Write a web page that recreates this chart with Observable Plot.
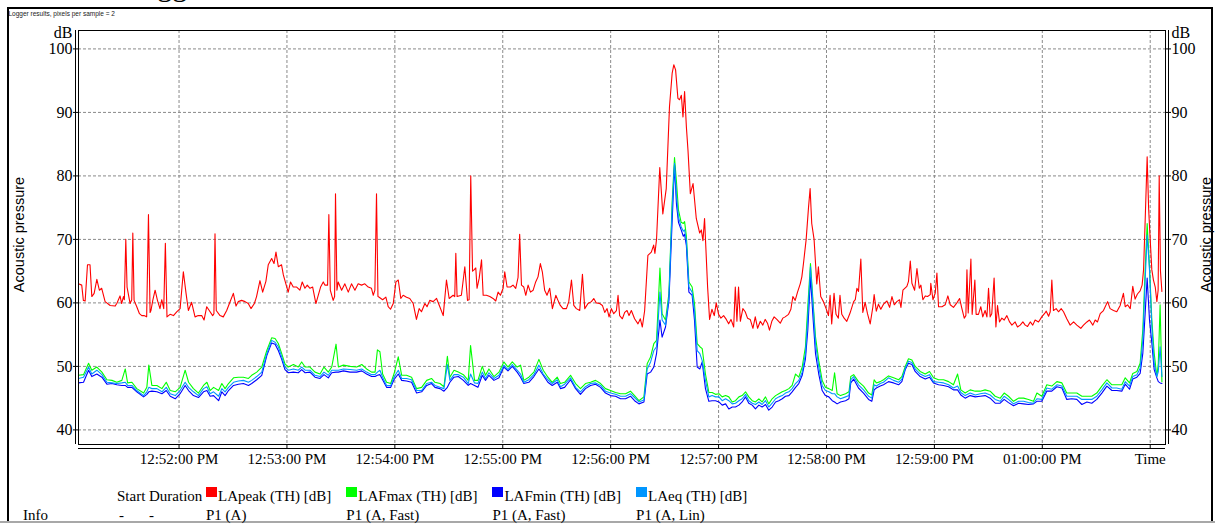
<!DOCTYPE html>
<html><head><meta charset="utf-8">
<script src="https://cdn.jsdelivr.net/npm/d3@7"></script>
<script src="https://cdn.jsdelivr.net/npm/@observablehq/plot@0.6"></script>
<style>
html,body{margin:0;padding:0;background:#fff;}
#wrap{position:relative;width:1215px;height:524px;overflow:hidden;background:#fff;}
#wrap svg{position:absolute;left:0;top:0;}
#wrap svg text{font-family:"Liberation Serif","Times New Roman",serif;}
.abs{position:absolute;white-space:nowrap;}
.leg{font-family:"Liberation Serif","Times New Roman",serif;font-size:15px;line-height:15px;color:#000;}
.bar{position:absolute;}
</style></head><body>
<div id="wrap"></div>
<script>
// ---- data (time in seconds after 12:51:00 PM) ----
const peakT = [4.1,5.9,6.8,7.8,9.1,10.5,11.5,12.8,14.3,15.7,17.0,18.9,21.7,24.4,25.4,27.2,28.1,29.1,29.6,30.4,31.1,32.8,33.7,34.3,35.0,36.5,38.0,39.3,40.5,42.0,43.0,43.9,44.4,45.4,46.7,48.0,49.4,50.4,51.5,52.4,53.3,55.0,56.9,58.7,60.6,62.4,63.9,65.2,67.0,68.9,70.7,72.6,73.9,75.4,76.8,78.7,79.4,80.0,80.7,82.8,84.6,86.5,88.0,90.2,91.7,92.9,94.8,96.7,98.5,100.0,101.9,103.1,105.0,106.5,108.3,109.6,111.5,112.8,113.9,115.2,117.0,118.0,119.4,120.7,122.0,123.5,125.4,127.2,128.5,130.0,131.3,132.8,134.3,136.1,137.4,138.7,140.2,141.1,142.6,143.3,144.1,145.7,146.5,147.0,147.8,148.5,150.4,152.2,154.1,155.9,157.8,159.6,161.5,163.3,165.2,167.0,168.0,168.9,169.8,170.6,171.3,173.2,175.0,176.3,177.6,179.1,180.6,181.9,183.3,184.6,186.5,188.3,190.2,192.0,193.5,194.8,196.7,197.9,199.4,201.3,203.2,205.0,206.9,208.7,210.2,212.4,213.3,213.9,214.6,217.0,218.9,220.4,221.3,222.2,223.2,224.0,225.0,225.7,226.9,228.2,229.1,230.9,232.8,234.6,236.1,237.4,238.7,240.2,241.1,242.4,244.3,245.7,247.2,248.5,249.4,250.4,251.7,252.8,254.1,255.4,256.9,258.3,259.6,260.9,262.0,263.3,264.6,266.1,267.6,269.5,270.7,272.0,273.5,275.4,276.7,278.2,279.5,280.9,282.8,284.3,285.6,287.4,289.3,290.6,292.0,293.9,295.4,296.7,298.0,299.1,300.4,301.7,303.2,304.1,305.0,306.5,307.8,309.1,310.2,311.5,313.3,315.2,316.5,317.6,318.9,320.7,322.6,323.9,324.6,325.5,327.3,329.0,330.9,332.7,334.2,335.1,336.1,337.4,338.3,339.3,340.2,341.1,342.1,343.0,344.3,345.8,347.6,349.5,350.4,351.3,352.2,353.9,355.0,356.3,357.6,358.7,360.0,361.3,362.8,364.3,365.6,366.9,368.4,369.3,370.2,371.1,372.1,373.5,374.8,376.1,377.6,379.1,380.4,381.7,383.2,384.6,385.9,387.2,388.3,389.6,390.9,392.4,394.3,395.7,397.0,398.9,400.2,401.3,402.6,403.9,405.4,406.3,407.2,408.7,410.0,410.9,411.8,413.1,414.6,415.5,416.8,418.3,419.8,421.1,422.0,422.9,424.2,425.3,426.6,427.5,428.5,429.8,431.3,433.1,435.1,436.0,436.9,437.8,439.1,440.2,441.5,442.8,444.3,445.8,446.5,447.7,448.9,450.2,451.7,453.6,455.1,456.4,457.7,459.1,460.6,461.4,462.5,464.7,465.6,466.6,467.5,469.0,470.3,471.6,472.5,473.6,474.9,476.2,477.7,478.0,479.2,480.5,481.4,482.3,484.2,486.0,487.5,488.8,490.6,492.5,494.0,495.3,496.6,497.5,498.1,498.8,500.3,501.0,502.5,503.2,504.5,505.8,506.9,508.2,509.2,510.1,511.0,511.9,513.2,514.2,515.1,516.2,517.5,518.8,520.3,521.8,523.1,524.9,526.2,527.7,529.2,530.5,531.8,533.3,534.7,536.0,537.9,539.7,541.2,542.2,543.5,544.4,545.3,546.2,547.7,549.0,550.5,551.8,553.6,555.5,557.4,559.2,561.4,562.9,564.8,566.2,568.1,569.4,570.7,572.2,574.0,576.3,577.7,579.6,581.4,583.3,585.1,586.1,587.4,588.9,590.3,591.6,592.9,594.4,595.5,596.3,597.2,598.3,599.1,599.8,600.9,601.8,602.8,603.7,604.4,605.0,605.7,606.5];
const peakV = [63,62.8,60.4,60.3,66,66,61,61.5,63.7,62,62.3,60.2,59.6,59.5,59.9,61.1,59.9,61,60.5,70,62.5,59.9,60.5,71,60.4,59.4,58.3,58,58,57.8,73.9,58.5,58.8,60.4,62,60.4,59.1,60.5,59.1,69.4,57.8,58.2,58,58.6,59.1,64.9,61.5,58.8,60.1,57.8,58,58,57.3,59.4,58.8,58,58.3,70.9,58.8,58,57.8,58.8,59.9,61.5,59.5,60.2,60.4,60.2,59.9,59.1,59.9,61,63.5,61.7,63.4,66,67,66.2,68,65.7,66,64.4,63,61.7,63.3,62.5,62.5,62,63.3,62.3,62.8,62.3,62.5,59.9,61.2,62.5,63.3,62.8,62.8,73.9,62,60.4,61,77.2,62,63.3,62,63,61.7,63,62,63,62.8,63,62.5,62.3,61.2,62,77.2,61,60.9,60.5,60.9,59.4,59,59.9,63.3,63.6,60.7,61.2,60.9,60.7,59.9,57.4,59.1,58.6,59.9,59.4,60.4,60.2,60.7,59.4,58,63.6,60.7,61.2,61,67.8,61,61.2,65.7,60.4,60.5,80,65,65.2,65.5,62.3,63.9,66.8,61.2,61.2,61,60.7,60.3,61.7,61.2,62.3,64.9,62.5,62.5,62.8,62.3,64,70.8,62.8,62.5,61.2,62.8,61.7,62,63.3,64.1,66.2,64.9,62,61.2,62.3,59.1,61.2,60.4,59.6,59.1,59.1,60.2,63.6,59.6,59.1,58.8,64.5,59.1,59.9,60.2,60.7,60,59.9,59.6,58.5,59.1,57.8,59.1,58.3,58.8,61.2,58,57.5,58.5,58.8,58,58.8,57.5,56.7,57.5,56.2,58.8,67.5,68,69.1,67.8,70,81.3,74,78,90.9,96.2,97.5,96.7,92.2,92,92.7,89.3,93.3,87.7,84,77.2,78.8,73.3,71,71.5,69.8,73.3,62.5,57.4,59,58,60,58.2,57.6,58,57.4,56.7,57.4,56.2,62.5,57.1,62.5,57.1,59.1,58.6,57.6,57.4,56,57.8,56,57.1,56.5,57.4,56.8,55.7,57.1,57.8,57.4,56.8,57.6,57.8,58.2,59,61,60.4,61.7,63,64.1,66.2,70,75,78,72.5,70,63,65.7,61,60.2,59.1,58,61.2,56.7,61.5,58.2,57.6,61.2,58.2,57.6,57.1,58.4,60.2,60.5,62.3,61.8,66.9,58.5,60.1,58.3,56.7,59.4,61.3,58.7,59.8,59,59.8,60.3,59.3,61,59.7,60.2,60.5,59.3,62,62.6,63.4,66.6,63.1,62,65.4,62.3,62.8,60.5,61.1,61,61.3,63.1,60.5,61.6,64.7,59.4,59.4,59.7,61.1,59.7,59.3,60,60.7,59.1,57.6,58,65.2,58.4,66.9,58.2,63.6,58.2,58.2,59.4,57.8,58.8,57.8,62.3,57.8,58.3,63.9,56.2,59.6,57,57.6,57.3,58,57,56.5,57,56.2,56.5,57,56.5,56.3,57,56.5,57.3,57,57.8,58.3,58.7,57.9,58.6,63.6,58.8,59.1,58.6,59.1,58.6,57.5,56.5,57,56.5,56,56.5,57,57.3,56.5,57.3,57,58.3,58.8,60.2,59.1,58.8,58.6,59.6,61.5,59.4,59.7,59.1,62.6,60.6,61.4,61.9,62.8,65.2,73,83,75,71,65.2,63.6,62.5,60.2,62,80,65,61.8];

const lowT = [4.1,6.9,9.7,11.5,14.3,17.1,19.9,22.7,25.4,28.2,30.1,31.4,33.8,36.5,40.3,42.1,43.2,44.9,47.7,50.5,52.9,55.1,57.9,60.6,63.4,65.3,68.0,70.8,73.6,75.5,77.3,79.2,82.0,83.8,85.6,87.5,90.3,93.0,95.8,98.6,100.4,103.2,106.0,108.8,111.5,113.4,115.2,117.1,118.9,120.8,123.6,126.3,128.2,130.1,132.8,135.6,138.4,140.6,143.0,144.9,147.3,148.6,151.4,155.1,158.8,161.6,164.3,167.1,169.0,170.3,171.7,173.2,175.4,177.7,179.5,181.9,183.8,186.5,189.3,192.1,194.9,197.7,200.4,202.3,205.1,207.3,209.2,210.6,212.9,215.3,218.1,220.8,222.1,224.3,226.2,228.6,230.4,232.3,235.1,237.9,240.6,242.9,245.3,248.0,249.9,251.7,254.5,257.3,260.1,262.5,265.1,267.5,270.3,272.1,274.4,277.7,280.5,283.2,286.0,288.8,291.6,294.4,297.1,299.9,302.7,305.5,308.3,311.0,313.3,315.7,318.5,320.3,322.2,324.0,325.5,327.4,328.6,330.5,332.4,334.2,335.5,336.6,337.7,339.2,340.4,341.1,342.1,343.5,345.3,346.6,348.1,349.6,350.9,352.7,354.6,356.4,358.3,360.2,362.0,363.9,365.7,367.6,369.4,371.3,373.1,375.0,376.8,378.7,380.5,382.4,384.2,386.1,387.9,389.8,391.7,393.5,395.4,397.2,399.1,400.9,402.8,404.6,406.5,408.3,409.6,411.1,412.6,413.9,415.7,417.6,419.4,421.3,423.2,424.5,425.9,427.8,430.6,432.5,433.5,435.1,437.8,440.6,443.4,445.2,446.5,447.7,449.9,451.7,454.5,457.3,460.1,461.9,463.8,465.6,467.5,469.3,472.1,474.9,477.3,479.5,482.3,485.1,487.9,490.6,492.9,494.7,497.1,499.9,502.7,505.5,508.2,511.0,513.8,516.6,518.8,521.2,524.0,526.8,529.6,532.3,535.1,537.0,539.7,542.5,545.3,548.1,550.9,553.6,556.4,559.2,562.0,564.8,567.5,570.3,573.1,575.9,578.7,581.4,584.2,586.1,588.5,590.3,592.6,594.4,595.9,597.2,598.3,599.6,600.9,602.2,603.7,604.5,605.5,606.5];
const lafmax = [48.6,48.7,50.5,49.4,49.9,49.1,47.9,47.8,47.5,47.8,49.6,47.4,47.5,46.5,45.8,46.7,50.2,47.0,47.0,46.5,47.5,46.2,46.0,46.7,49.4,47.5,46.5,45.8,47.0,47.5,46.2,46.7,46.2,47.3,46.5,47.3,48.2,48.3,48.3,48.1,48.6,49.1,49.9,52.5,54.5,54.4,53.6,52.0,50.4,49.9,50.3,49.9,50.7,49.9,49.9,49.1,48.8,49.9,49.1,49.9,53.5,49.9,50.2,50.0,49.9,50.3,49.6,49.1,49.1,52.6,52.3,48.8,47.5,47.3,48.8,51.5,48.6,48.6,48.3,46.5,46.7,47.8,48.1,47.5,47.3,46.8,51.6,48.3,49.4,49.1,48.7,47.8,53.3,47.8,47.8,50.0,48.6,49.6,48.4,49.1,50.7,49.9,50.7,49.9,50.2,47.8,48.3,49.1,51.1,49.4,48.3,47.5,48.3,47.3,47.5,48.6,47.3,46.5,47.3,47.5,47.8,47.3,46.5,46.2,45.9,45.7,45.7,46.1,45.4,44.6,45.2,50.4,51.5,53.6,54.1,65.5,58.3,57.3,61.5,76.0,82.9,79.0,74.6,72.7,72.5,72.8,70.5,63.3,62.5,59.9,53.6,53.1,52.8,48.8,45.9,45.9,45.6,45.7,45.2,45.4,45.2,44.4,44.6,45.2,45.4,46.0,45.2,44.6,44.4,44.9,44.4,45.2,44.1,44.9,45.4,45.7,46.0,46.2,46.5,47.0,48.8,48.3,49.9,53.1,59.4,66.2,59.9,54.6,50.9,47.8,46.7,46.5,46.2,49.0,45.7,45.4,45.7,46.0,48.4,48.7,47.6,46.9,45.8,45.5,47.9,47.4,47.6,47.9,48.5,48.2,47.9,48.4,50.0,51.2,51.0,50.0,49.2,48.8,49.2,48.2,47.9,47.9,47.6,47.1,48.8,46.3,45.8,46.3,46.1,46.1,46.3,46.1,45.3,45.0,45.8,45.3,44.5,45.0,45.0,44.8,44.5,45.8,45.3,47.1,46.9,47.6,47.4,45.8,45.8,45.8,45.3,45.3,45.3,45.8,46.9,47.9,47.1,47.1,47.1,48.2,47.4,48.9,49.2,50.5,55.8,65.2,72.5,65.7,57.3,52.1,48.4,50.5,59.7,47.6];
const laeq = [48.1,48.3,49.9,48.8,49.4,48.7,47.5,47.4,47.3,47.4,47.5,47.0,47.0,46.2,45.4,46.0,46.7,46.5,46.5,46.0,46.7,45.7,45.4,46.2,47.5,46.7,46.0,45.4,46.5,46.8,45.7,46.0,45.3,46.5,46.0,46.7,47.5,47.7,47.8,47.5,47.8,48.4,49.1,52.0,54.1,53.8,53.1,51.5,49.9,49.4,49.6,49.4,49.9,49.4,49.4,48.6,48.4,49.1,48.6,49.4,49.4,49.4,49.6,49.5,49.4,49.6,49.1,48.7,48.7,49.1,49.4,48.3,47.0,47.0,48.3,49.4,48.1,48.1,47.9,46.2,46.2,47.3,47.5,47.0,46.7,46.5,50.3,47.8,48.7,48.7,48.3,47.3,48.8,47.4,47.3,49.1,48.1,49.0,48.1,48.6,50.2,49.5,50.3,49.4,48.8,47.5,47.9,48.7,50.2,48.8,47.9,47.3,47.9,46.8,47.2,48.2,46.7,46.0,46.8,47.3,47.4,47.0,46.1,45.8,45.6,45.3,45.3,45.7,45.1,44.4,44.7,49.6,50.7,52.5,53.1,61.7,57.3,56.5,61.0,75.0,82.0,77.0,73.5,72.0,71.3,71.5,69.8,62.5,61.7,58.8,52.5,52.0,50.9,47.8,45.2,45.4,45.2,45.2,44.6,44.9,44.6,44.1,44.2,44.6,44.9,45.6,44.6,44.2,44.0,44.4,44.0,44.6,43.6,44.2,44.9,45.2,45.4,45.8,46.0,46.5,47.3,47.8,49.1,52.0,57.8,65.7,59.4,53.6,49.9,47.0,46.2,46.0,45.7,45.7,45.2,44.9,45.2,45.4,47.9,48.4,47.1,46.3,45.3,45.0,47.1,46.9,47.3,47.5,48.2,47.8,47.5,48.0,49.7,50.8,50.6,49.6,48.8,48.4,48.7,47.6,47.5,47.4,47.1,46.6,46.9,45.9,45.4,45.8,45.5,45.7,45.8,45.5,44.8,44.5,45.3,44.8,44.1,44.5,44.5,44.3,44.2,44.9,44.8,46.6,46.4,47.1,46.9,45.3,45.3,45.3,44.8,44.8,44.8,45.3,46.3,47.4,46.6,46.6,46.4,47.6,46.9,48.4,48.7,49.7,54.2,63.6,70.7,65.2,56.3,50.5,48.4,49.2,53.1,48.4];
const lafmin = [47.4,47.5,49.4,48.4,48.8,48.3,47.2,47.3,47.1,47.0,47.0,46.7,46.7,46.0,45.2,45.6,46.0,46.1,46.0,45.7,46.2,45.3,44.9,45.7,47.0,46.2,45.4,45.1,46.0,46.2,45.3,45.4,44.6,46.0,45.4,46.2,47.0,47.2,47.3,47.0,47.3,47.9,48.6,51.7,53.7,53.5,52.5,51.1,49.5,49.0,49.1,49.0,49.5,49.0,49.1,48.3,48.1,48.7,48.2,49.0,49.1,49.1,49.3,49.1,49.1,49.3,48.8,48.4,48.4,48.6,48.7,47.9,46.7,46.7,47.9,48.8,47.8,47.7,47.5,45.8,46.0,47.0,47.3,46.7,46.5,46.1,46.7,47.5,48.3,48.4,47.8,47.0,47.3,47.0,46.7,48.6,47.8,48.6,47.8,48.2,49.9,49.3,50.0,49.1,48.3,47.3,47.5,48.4,49.6,48.6,47.5,47.0,47.5,46.5,46.7,47.9,46.5,45.6,46.5,47.0,47.2,46.7,45.8,45.4,45.3,44.9,44.9,45.3,44.6,44.1,44.4,48.8,49.1,49.9,52.0,57.3,54.6,56.2,60.4,73.0,81.7,75.5,72.7,71.5,70.5,70.8,69.0,61.7,61.2,57.3,49.9,49.6,50.7,46.5,44.5,44.6,44.6,44.4,43.9,44.1,43.3,43.6,43.6,43.9,44.4,45.2,44.2,43.9,43.3,43.9,43.6,44.0,43.1,43.6,44.4,44.6,44.9,45.3,45.4,46.0,46.7,47.3,48.6,51.2,55.7,64.1,57.3,52.0,48.8,46.2,45.4,45.2,44.6,44.4,44.1,44.4,44.6,44.9,47.4,48.0,46.6,45.8,44.8,44.5,46.3,46.6,46.9,47.1,47.6,47.4,47.1,47.6,49.5,50.5,50.3,49.2,48.4,48.0,48.3,47.4,47.1,47.0,46.8,46.3,46.3,45.5,45.0,45.4,45.2,45.3,45.4,45.0,44.2,44.2,44.8,44.3,43.8,44.2,44.1,44.0,44.1,44.5,44.5,46.1,46.1,46.8,46.6,44.8,44.9,44.8,44.0,44.4,44.2,44.8,45.8,46.9,46.2,46.2,46.1,47.2,46.4,48.0,48.3,48.9,52.1,58.4,63.9,57.3,53.7,49.5,48.2,47.6,47.4,47.3];

const yTicks = [40, 50, 60, 70, 80, 90, 100];
const xTickSec = [60, 120, 180, 240, 300, 360, 420, 480, 540, 600];
const xTickLabels = ["12:52:00 PM","12:53:00 PM","12:54:00 PM","12:55:00 PM","12:56:00 PM","12:57:00 PM","12:58:00 PM","12:59:00 PM","01:00:00 PM","Time"];
const seriesNames = ["LApeak (TH) [dB]", "LAFmax (TH) [dB]", "LAFmin (TH) [dB]", "LAeq (TH) [dB]"];
const seriesInfo = ["P1 (A)", "P1 (A, Fast)", "P1 (A, Fast)", "P1 (A, Lin)"];
const headerCols = ["Start", "Duration"];
const infoCols = ["-", "-"];

// ---- styles ----
const seriesColors = ["#ff0000", "#00ff00", "#0000ff", "#0096ff"];

const base = Date.UTC(2024, 0, 1, 12, 51, 0);
const toDate = s => new Date(base + s * 1000);
const xDomain = [toDate(4.1), toDate(608.5)];
const yDomain = [37.7, 102.9];
const xTicks = xTickSec.map(toDate);
const labelByTime = new Map(xTicks.map((d, i) => [+d, xTickLabels[i]]));

const peakData = peakT.map((t, i) => ({t: toDate(t), v: peakV[i]}));
const mk = arr => lowT.map((t, i) => ({t: toDate(t), v: arr[i]}));
const lowSeries = [mk(lafmax), mk(lafmin), mk(laeq)];

const W = 1215, H = 470;
const serif = "'Liberation Serif','Times New Roman',serif";
const sans = "'Liberation Sans',Arial,sans-serif";

const chart = Plot.plot({
  width: W, height: H,
  marginLeft: 78, marginRight: 50, marginTop: 30, marginBottom: H - 444,
  x: {type: "utc", domain: xDomain},
  y: {domain: yDomain},
  style: {fontFamily: serif, fontSize: "15px", color: "#000", background: "transparent", overflow: "visible"},
  marks: [
    Plot.gridY(yTicks, {stroke: "#8a8a8a", strokeOpacity: 1, strokeDasharray: "3,2"}),
    Plot.gridX(xTicks, {stroke: "#8a8a8a", strokeOpacity: 1, strokeDasharray: "3,2"}),
    Plot.line(peakData, {x: "t", y: "v", stroke: seriesColors[0], strokeWidth: 1.1}),
    Plot.line(lowSeries[0], {x: "t", y: "v", stroke: seriesColors[1], strokeWidth: 1.1}),
    Plot.line(lowSeries[1], {x: "t", y: "v", stroke: seriesColors[2], strokeWidth: 1.1}),
    Plot.line(lowSeries[2], {x: "t", y: "v", stroke: seriesColors[3], strokeWidth: 1.1}),
    Plot.frame({stroke: "#000"}),
    Plot.ruleX([xDomain[0]], {dx: -3, stroke: "#000"}),
    Plot.ruleX([xDomain[1]], {dx: 3, stroke: "#000"}),
    Plot.ruleY([yDomain[0]], {dy: 4, stroke: "#000"}),
    Plot.axisY(yTicks, {anchor: "left", tickSize: 5, tickPadding: 1, label: null, fontSize: 16, fontVariant: "normal"}),
    Plot.axisY(yTicks, {anchor: "right", tickSize: 5, tickPadding: 1, label: null, fontSize: 16, fontVariant: "normal"}),
    Plot.axisX(xTicks, {anchor: "bottom", tickSize: 5, tickPadding: 4, label: null, fontSize: 15, tickFormat: d => labelByTime.get(+d)}),
    Plot.text(["dB"], {frameAnchor: "top-left", dx: -6, dy: 2, textAnchor: "end", lineAnchor: "middle", fontSize: 16}),
    Plot.text(["dB"], {frameAnchor: "top-right", dx: 6, dy: 2, textAnchor: "start", lineAnchor: "middle", fontSize: 16}),
    Plot.text(["Acoustic pressure"], {frameAnchor: "left", dx: -59, dy: -3, rotate: -90, textAnchor: "middle", lineAnchor: "middle", fontSize: 14.5}),
    Plot.text(["Acoustic pressure"], {frameAnchor: "right", dx: 41, dy: -3, rotate: -90, textAnchor: "middle", lineAnchor: "middle", fontSize: 14.5})
  ]
});

const wrap = document.getElementById("wrap");
wrap.appendChild(chart);
// the y-axis titles are sans-serif
chart.querySelectorAll("text").forEach(t => {
  if (t.textContent === "Acoustic pressure") t.style.fontFamily = sans;
});

function addDiv(cls, css, text) {
  const d = document.createElement("div");
  d.className = cls;
  d.style.cssText = css;
  if (text != null) d.textContent = text;
  wrap.appendChild(d);
  return d;
}
// big title (mostly above the visible area) and small caption
addDiv("abs", "left:124px;top:-29px;font-family:" + serif + ";font-size:30px;line-height:30px;color:#000;", "Logger");
addDiv("abs", "left:8.5px;top:9.7px;font-family:" + sans + ";font-size:6.5px;line-height:7px;color:#222;", "Logger results, pixels per sample = 2");
// outer border
addDiv("bar", "left:7px;top:7px;width:1206px;height:2px;background:#000;");
addDiv("bar", "left:7px;top:7px;width:2px;height:515px;background:#000;");
addDiv("bar", "left:1211px;top:7px;width:2px;height:515px;background:#000;");
addDiv("bar", "left:0px;top:521px;width:1215px;height:2px;background:#a8a8a8;");

// legend
const row1Top = 489, row2Top = 507.5;
addDiv("abs leg", `left:23px;top:${row2Top}px;`, "Info");
addDiv("abs leg", `left:117px;top:${row1Top}px;`, headerCols[0]);
addDiv("abs leg", `left:149px;top:${row1Top}px;`, headerCols[1]);
addDiv("abs leg", `left:119px;top:${row2Top}px;`, infoCols[0]);
addDiv("abs leg", `left:149px;top:${row2Top}px;`, infoCols[1]);
let lx = 206;
seriesNames.forEach((name, i) => {
  addDiv("bar", `left:${lx}px;top:487px;width:11px;height:10px;background:${seriesColors[i]};`);
  const t = addDiv("abs leg", `left:${lx + 12}px;top:${row1Top}px;`, name);
  addDiv("abs leg", `left:${lx}px;top:${row2Top}px;`, seriesInfo[i]);
  const w = t.getBoundingClientRect().width;
  lx = lx + 12 + w + 15;
});
</script>
</body></html>
